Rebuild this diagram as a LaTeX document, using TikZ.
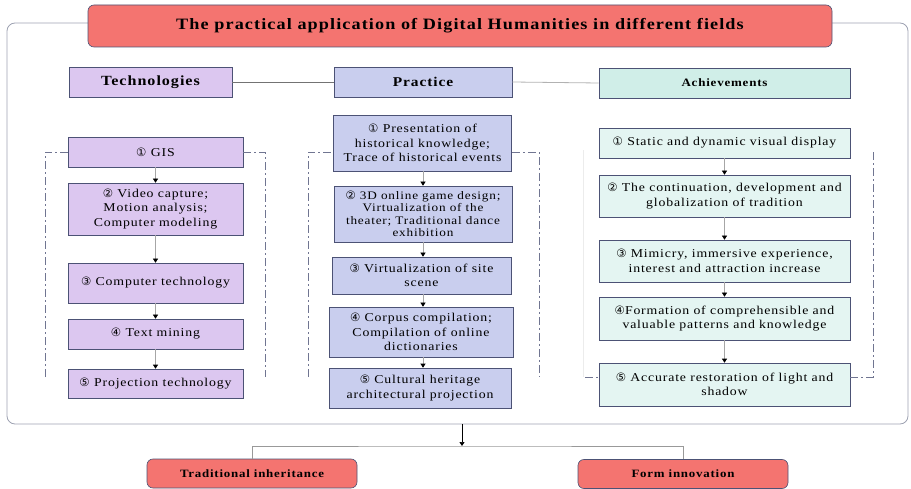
\documentclass[tikz,border=0pt]{standalone}
\usepackage{fontspec}
\setmainfont{Liberation Serif}[FakeStretch=1.15, LetterSpace=7]
\newfontfamily\circfont{DejaVu Sans}
\usepackage{tikz}
\usetikzlibrary{positioning}
\usetikzlibrary{arrows.meta}
\usepackage{xcolor}

\definecolor{titlered}{HTML}{F47470}
\definecolor{techfill}{HTML}{DCC7F0}
\definecolor{pracfill}{HTML}{C9CEEE}
\definecolor{achhead}{HTML}{D0EEE8}
\definecolor{achfill}{HTML}{E4F5F2}
\definecolor{boxline}{HTML}{4C5275}
\definecolor{framegray}{HTML}{9EA2B2}

\newcommand{\cnum}[1]{{\circfont\fontsize{11.5}{11.5}\selectfont #1}}

\begin{document}
\begin{tikzpicture}[x=1pt,y=-1pt,
    itemfont/.style={font=\fontsize{12}{14.5}\selectfont},
    basebox/.style={draw=boxline, line width=0.6pt, inner sep=0pt, align=center},
    techbox/.style={basebox, fill=techfill, itemfont},
    pracbox/.style={basebox, fill=pracfill, itemfont},
    achbox/.style={basebox, fill=achfill, itemfont},
    headbox/.style={basebox, font=\bfseries\fontsize{14}{16}\selectfont},
    redbox/.style={basebox, fill=titlered, rounded corners=6pt, font=\bfseries\fontsize{11.2}{13}\selectfont},
    flow/.style={draw=gray!70, line width=0.6pt, -{Triangle[black, length=4pt, width=5pt]}},
    bracket/.style={draw=boxline!80, line width=0.6pt, dash pattern=on 8pt off 3pt on 2pt off 3pt}
    ]
\useasboundingbox (0,0) rectangle (911,489);

%outer frame and title
\node[draw=framegray, line width=0.8pt, rounded corners=8pt, minimum width=901, minimum height=401] (frame) at (457.5,223.5) {};
\node[redbox, minimum width=744, minimum height=42, font=\bfseries\fontsize{15.8}{17}\selectfont] (title) at (460,26) {The practical application of Digital Humanities in different fields};

%headers
\node[headbox, fill=techfill, minimum width=163, minimum height=30] (tech) at (150.5,82) {Technologies};
\node[headbox, fill=pracfill, minimum width=178, minimum height=30, font=\bfseries\fontsize{13.4}{15}\selectfont] (prac) at (423,82) {Practice};
\node[headbox, fill=achhead, minimum width=251, minimum height=30, font=\bfseries\fontsize{11.3}{13}\selectfont] (ach) at (724.5,83) {Achievements};

\draw[gray!90!black, line width=0.8pt] (tech.east) -- (prac.west);
\draw[gray!60, line width=0.8pt] (prac.east) -- (ach.west);

%technologies
\node[techbox, minimum width=175, minimum height=30] (t1) at (155.5,152) {\cnum{①} GIS};
\node[techbox, minimum width=175, minimum height=52] (t2) at (155.5,209) {\cnum{②} Video capture;\\ Motion analysis;\\ Computer modeling};
\node[techbox, minimum width=175, minimum height=40] (t3) at (155.5,283) {\cnum{③} Computer technology};
\node[techbox, minimum width=175, minimum height=30] (t4) at (155.5,334) {\cnum{④} Text mining};
\node[techbox, minimum width=175, minimum height=29] (t5) at (155.5,383.5) {\cnum{⑤} Projection technology};

%practice
\node[pracbox, minimum width=178, minimum height=56] (p1) at (422.5,143) {\cnum{①} Presentation of\\ historical knowledge;\\ Trace of historical events};
\node[pracbox, minimum width=178, minimum height=56, font=\fontsize{11.5}{12.5}\selectfont] (p2) at (423,214) {\cnum{②} 3D online game design;\\ Virtualization of the\\ theater; Traditional dance\\ exhibition};
\node[pracbox, minimum width=179, minimum height=37] (p3) at (421.5,275.5) {\cnum{③} Virtualization of site\\ scene};
\node[pracbox, minimum width=184, minimum height=50] (p4) at (421,332) {\cnum{④} Corpus compilation;\\ Compilation of online\\ dictionaries};
\node[pracbox, minimum width=182, minimum height=40] (p5) at (420,388) {\cnum{⑤} Cultural heritage\\ architectural projection};

%achievements
\node[achbox, minimum width=251, minimum height=30] (a1) at (724.5,143) {\cnum{①} Static and dynamic visual display};
\node[achbox, minimum width=251, minimum height=42] (a2) at (724.5,196) {\cnum{②} The continuation, development and\\ globalization of tradition};
\node[achbox, minimum width=251, minimum height=42] (a3) at (724.5,261) {\cnum{③} Mimicry, immersive experience,\\ interest and attraction increase};
\node[achbox, minimum width=251, minimum height=43] (a4) at (724.5,318.5) {\cnum{④}Formation of comprehensible and\\ valuable patterns and knowledge};
\node[achbox, minimum width=251, minimum height=43] (a5) at (724.5,384.5) {\cnum{⑤} Accurate restoration of light and\\ shadow};

%arrows in the columns
\foreach \a/\b in {t1/t2,t2/t3,t3/t4,t4/t5}
  \draw[flow] (\a.south) -- (\b.north);
\foreach \a/\b in {p1/p2,p2/p3,p3/p4,p4/p5}
  \draw[flow] (\a.south -| 423,0) -- (\b.north -| 423,0);
\foreach \a/\b in {a1/a2,a2/a3,a3/a4,a4/a5}
  \draw[flow] (\a.south) -- (\b.north);

%dashed brackets
\draw[bracket] (45,377) -- (45,152) -- (t1.west);
\draw[bracket] (t1.east) -- (265,152) -- (265,377);
\draw[bracket] (308,377) -- (308,152) -- (p1.west |- 0,152);
\draw[bracket] (p1.east |- 0,152) -- (539,152) -- (539,377);
\draw[gray!15, line width=0.6pt] (583,150) -- (583,377);
\draw[bracket] (585,377) -- (a5.west |- 0,377);
\draw[bracket] (a5.east |- 0,377) -- (873,377) -- (873,150);

%bottom
\node[redbox, minimum width=210, minimum height=29] (trad) at (252,473.5) {Traditional inheritance};
\node[redbox, minimum width=210, minimum height=29] (form) at (683,474) {Form innovation};
\coordinate (split) at (462,446);
\draw[line width=0.7pt, -{Triangle[length=4pt, width=5pt]}] (frame.south -| split) -- (split);
\draw[gray!80, line width=0.7pt] (trad.north) |- (split) -| (form.north);

\end{tikzpicture}
\end{document}
